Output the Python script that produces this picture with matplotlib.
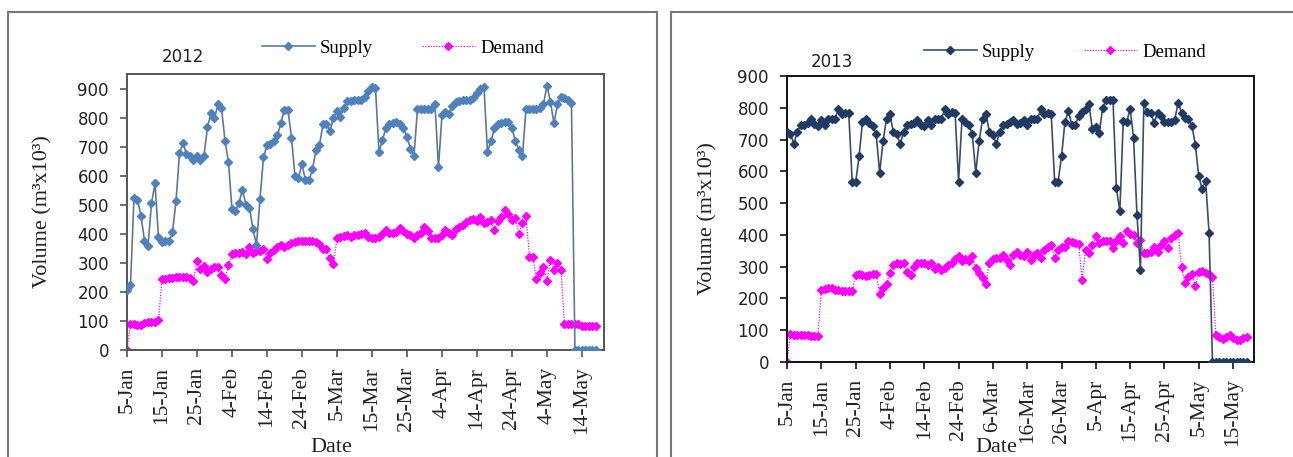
import matplotlib
matplotlib.use("Agg")
import matplotlib.pyplot as plt
from matplotlib.patches import Rectangle
from matplotlib.lines import Line2D
import numpy as np

# ---------------- data ----------------
tick_labels_2012 = ["5-Jan", "15-Jan", "25-Jan", "4-Feb", "14-Feb", "24-Feb", "5-Mar",
                    "15-Mar", "25-Mar", "4-Apr", "14-Apr", "24-Apr", "4-May", "14-May"]
tick_labels_2013 = ["5-Jan", "15-Jan", "25-Jan", "4-Feb", "14-Feb", "24-Feb", "6-Mar",
                    "16-Mar", "26-Mar", "5-Apr", "15-Apr", "25-Apr", "5-May", "15-May"]
tick_days = [0, 10, 20, 30, 40, 50, 60, 70, 80, 90, 100, 110, 120, 130]

supply_2012 = [207, 224, 526, 518, 463, 377, 358, 506, 575, 389,
               374, 375, 375, 406, 513, 678, 715, 675, 670, 655,
               670, 655, 670, 770, 816, 800, 847, 835, 722, 647,
               485, 480, 508, 552, 500, 490, 417, 362, 520, 664,
               707, 712, 722, 741, 784, 828, 828, 732, 600, 595,
               640, 586, 586, 623, 690, 707, 778, 780, 755, 800,
               825, 805, 835, 860, 860, 862, 862, 862, 873, 895,
               907, 905, 684, 724, 767, 778, 782, 785, 780, 765,
               735, 695, 669, 830, 830, 830, 830, 832, 847, 630,
               810, 822, 815, 840, 855, 860, 862, 862, 864, 868,
               885, 900, 908, 684, 720, 765, 780, 782, 785, 785,
               765, 720, 690, 669, 830, 830, 830, 830, 835, 847,
               912, 856, 782, 847, 873, 870, 862, 851, 0, 0,
               0, 0, 0, 0, 0]
demand_2012 = [0, 90, 88, 87, 86, 92, 97, 98, 98, 102,
               244, 246, 248, 250, 252, 252, 252, 251, 248, 238,
               308, 279, 290, 269, 278, 285, 288, 258, 245, 293,
               331, 333, 335, 338, 330, 355, 335, 340, 343, 348,
               313, 333, 345, 356, 362, 355, 362, 370, 373, 377,
               377, 377, 377, 375, 372, 365, 350, 348, 316, 295,
               385, 391, 394, 398, 390, 397, 395, 400, 402, 391,
               385, 385, 391, 400, 414, 402, 402, 408, 420, 410,
               400, 397, 385, 395, 402, 425, 410, 385, 385, 388,
               398, 413, 405, 395, 418, 425, 430, 440, 450, 452,
               446, 460, 438, 440, 450, 414, 445, 460, 483, 470,
               448, 455, 400, 437, 462, 322, 320, 245, 266, 287,
               239, 312, 276, 299, 276, 90, 88, 88, 90, 88,
               84, 82, 82, 82, 82]
supply_2013 = [724, 718, 687, 724, 745, 747, 753, 765, 750, 744,
               763, 747, 765, 765, 765, 797, 779, 784, 782, 568,
               565, 647, 755, 765, 753, 742, 716, 595, 695, 765,
               779, 724, 716, 687, 724, 747, 750, 753, 763, 747,
               744, 763, 747, 765, 765, 765, 797, 781, 786, 782,
               568, 765, 755, 747, 716, 595, 695, 765, 779, 724,
               714, 687, 724, 747, 750, 755, 763, 750, 753, 763,
               747, 765, 765, 765, 797, 779, 784, 781, 568, 566,
               647, 755, 789, 747, 747, 774, 786, 797, 811, 732,
               740, 721, 800, 826, 826, 826, 547, 474, 758, 755,
               797, 705, 463, 289, 816, 786, 784, 753, 784, 774,
               755, 755, 755, 763, 816, 784, 768, 765, 744, 684,
               584, 544, 571, 407, 0, 0, 0, 0, 0, 0,
               0, 0, 0, 0, 0]
demand_2013 = [0, 89, 86, 84, 86, 84, 84, 82, 82, 82,
               226, 229, 232, 232, 228, 226, 224, 224, 223, 223,
               274, 277, 274, 272, 274, 277, 277, 214, 232, 247,
               281, 305, 311, 307, 313, 284, 274, 300, 311, 313,
               311, 305, 311, 292, 300, 289, 295, 305, 313, 323,
               334, 319, 323, 319, 332, 297, 281, 263, 247, 313,
               323, 326, 326, 337, 321, 305, 337, 347, 337, 334,
               347, 321, 337, 342, 326, 353, 363, 368, 328, 353,
               363, 361, 382, 379, 376, 372, 258, 353, 342, 368,
               395, 376, 382, 382, 382, 358, 382, 397, 376, 411,
               402, 400, 374, 384, 344, 342, 347, 363, 347, 368,
               382, 358, 389, 400, 405, 298, 250, 268, 277, 239,
               282, 286, 281, 277, 268, 84, 79, 71, 79, 84,
               74, 68, 68, 74, 79]
y_ticks = [0, 100, 200, 300, 400, 500, 600, 700, 800, 900]

# ---------------- style ----------------
W, H = 1293, 457
SERIF = "Liberation Serif"
SANS = "DejaVu Sans"
MAG = "#FF00FF"
MS = 4.0

fig = plt.figure(figsize=(W / 100, H / 100), dpi=100)

# panel borders
fig.patches.append(Rectangle((8 / W, -0.1), (657 - 8) / W, 1 - 12 / H + 0.1,
                             transform=fig.transFigure, fill=False,
                             ec="#777777", lw=1.5))
fig.patches.append(Rectangle((671 / W, -0.1), 0.6, 1 - 12 / H + 0.1,
                             transform=fig.transFigure, fill=False,
                             ec="#777777", lw=1.5))


def px_axes(x0, y0, x1, y1):
    return fig.add_axes([x0 / W, 1 - y1 / H, (x1 - x0) / W, (y1 - y0) / H])


panels = [
    dict(box=(127, 74, 604, 350), ymax=952, xmax=136.3, supply=supply_2012,
         demand=demand_2012, labels=tick_labels_2012,
         s_line="#5f7896", s_mark="#4F81BD", spine="#555555",
         title="2012", title_xy=(183, 57), date_xy=(331, 447), vol_xy=(43, 212),
         leg_xy=(262, 48)),
    dict(box=(787, 76, 1254, 362), ymax=900, xmax=136.1, supply=supply_2013,
         demand=demand_2013, labels=tick_labels_2013,
         s_line="#3c4e66", s_mark="#1F3A64", spine="#111111",
         title="2013", title_xy=(832, 62), date_xy=(996, 447), vol_xy=(708, 219),
         leg_xy=(924, 52)),
]

for p in panels:
    ax = px_axes(*p["box"])
    days_s = np.arange(len(p["supply"]))
    days_d = np.arange(len(p["demand"]))
    ax.plot(days_s, p["supply"], color=p["s_line"], lw=1.2,
            marker="D", ms=MS, mfc=p["s_mark"], mec=p["s_mark"], zorder=3)
    ax.plot(days_d, p["demand"], color=MAG, lw=0.9, ls=(0, (1, 1.2)),
            marker="D", ms=MS, mfc=MAG, mec=MAG, zorder=2)
    ax.set_xlim(0, p["xmax"])
    ax.set_ylim(0, p["ymax"])
    ax.set_yticks(y_ticks)
    ax.set_yticklabels([str(v) for v in y_ticks], fontfamily=SANS, fontsize=12,
                       color="#222222")
    ax.set_xticks(tick_days)
    ax.set_xticklabels(p["labels"], rotation=90, fontfamily=SERIF, fontsize=15.5,
                       color="#222222")
    ax.tick_params(axis="both", direction="out", length=5, width=1.2,
                   color=p["spine"])
    ax.tick_params(axis="y", pad=8)
    ax.tick_params(axis="x", pad=7)
    for s in ax.spines.values():
        s.set_color(p["spine"])
        s.set_linewidth(1.4)

    fig.text(p["title_xy"][0] / W, 1 - p["title_xy"][1] / H, p["title"],
             fontfamily=SANS, fontsize=12, ha="center", va="center", color="#222222")
    fig.text(p["date_xy"][0] / W, 1 - p["date_xy"][1] / H, "Date",
             fontfamily=SERIF, fontsize=16, ha="center", va="center", color="#222222")
    fig.text(p["vol_xy"][0] / W, 1 - p["vol_xy"][1] / H, "Volume (m³x10³)",
             fontfamily=SERIF, fontsize=16, ha="center", va="center",
             rotation=90, color="#222222")

    handles = [
        Line2D([], [], color=p["s_line"], lw=1.2, marker="D", ms=MS,
               mfc=p["s_mark"], mec=p["s_mark"]),
        Line2D([], [], color=MAG, lw=0.9, ls=(0, (1, 1.2)), marker="D", ms=MS,
               mfc=MAG, mec=MAG),
    ]
    fig.legend(handles, ["Supply", "Demand"], loc="center left",
               bbox_to_anchor=(p["leg_xy"][0] / W, 1 - p["leg_xy"][1] / H),
               ncol=2, frameon=False, borderpad=0, borderaxespad=0,
               handlelength=2.8, handletextpad=0.3, columnspacing=2.6,
               prop={"family": SERIF, "size": 13.5})

fig.savefig("out.png", dpi=100)
